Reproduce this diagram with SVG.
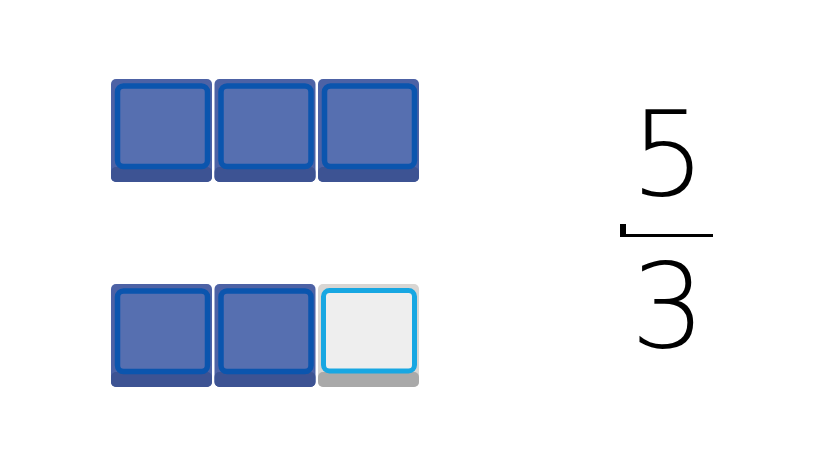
<svg xmlns="http://www.w3.org/2000/svg" width="840" height="460" viewBox="0 0 840 460">
<defs>
<style>
.base{fill:#4d62a5}
.shadow{fill:#3d5393}
.inner{fill:#566fb0;stroke:#0b55ae;stroke-width:5.5}
.ebase{fill:#d9d6d3}
.eshadow{fill:#a9a9a9}
.einner{fill:#eeeeee;stroke:#18a7e2;stroke-width:5}
.num{font-family:"DejaVu Sans","Liberation Sans",sans-serif;font-weight:200;font-size:118px;fill:#000;text-anchor:middle}
</style>
<g id="tile">
<rect class="base" x="0" y="0" width="101" height="103" rx="5"/>
<rect class="shadow" x="0" y="88" width="101" height="15" rx="5"/>
<rect class="inner" x="6.5" y="7" width="90" height="80.5" rx="6"/>
</g>
</defs>
<rect width="840" height="460" fill="#fff"/>
<g id="top-row">
<use href="#tile" x="111" y="79"/>
<use href="#tile" x="214.5" y="79"/>
<use href="#tile" x="318" y="79"/>
</g>
<g id="bottom-row">
<use href="#tile" x="111" y="284"/>
<use href="#tile" x="214.5" y="284"/>
<g id="empty-tile" transform="translate(318,284)">
<rect class="ebase" x="0" y="0" width="101" height="103" rx="5"/>
<rect class="eshadow" x="0" y="88" width="101" height="15" rx="5"/>
<rect class="einner" x="5.5" y="6.5" width="91" height="80.5" rx="6"/>
</g>
</g>
<g id="fraction">
<text class="num" x="668" y="195">5</text>
<rect x="620" y="224" width="6" height="13" fill="#000"/>
<rect x="620" y="234" width="93" height="3" fill="#000"/>
<text class="num" x="668" y="347">3</text>
</g>
</svg>
